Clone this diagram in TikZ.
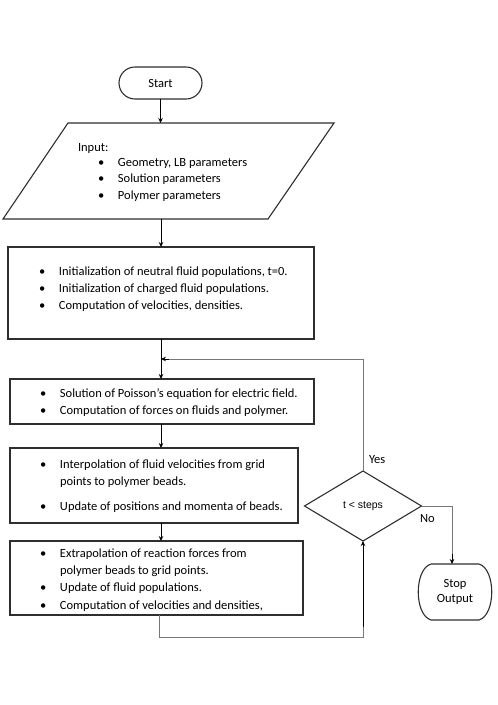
\documentclass[tikz,border=0pt]{standalone}
\usepackage{fontspec}
\setmainfont{Carlito}
\newfontfamily\arialfont{Liberation Sans}
\usetikzlibrary{arrows.meta,shapes.geometric,calc}
\definecolor{boxline}{HTML}{2E2E2E}
\definecolor{loopline}{HTML}{777777}
\begin{document}
\begin{tikzpicture}[x=1pt,y=-1pt,
  every node/.style={inner sep=0pt, outer sep=0pt},
  procbox/.style={draw=boxline, line width=1.1pt, minimum width=#1},
  ln/.style={anchor=west, text height=9pt, text depth=3pt, font=\fontsize{12.5}{15}\selectfont},
  arr/.style={draw=black, line width=0.9pt, -{Stealth[length=5pt,width=4.5pt]}},
  looparr/.style={draw=loopline, line width=0.9pt},
  lbl/.style={anchor=west, text height=9pt, text depth=3pt, font=\fontsize{12.5}{15}\selectfont}]
\useasboundingbox (0,0) rectangle (498,705);
\newcommand{\bl}{\makebox[20pt][l]{\textbullet}}
\coordinate (spine) at (161,0);

% Start
\node[draw=boxline, line width=1.1pt, rounded corners=16pt, minimum width=83pt, minimum height=32pt,
  font=\fontsize{12.5}{15}\selectfont] (start) at (160.5,83) {Start};

% Input parallelogram
\coordinate (p1) at (68,123);
\coordinate (p2) at (334,123);
\coordinate (p3) at (268,219);
\coordinate (p4) at (3,219);
\draw[draw=boxline, line width=1.1pt] (p1) -- (p2) -- (p3) -- (p4) -- cycle;
\node[ln] (in0) at (78,148) {Input:};
\node[ln] (in1) at (98,163) {\bl Geometry, LB parameters};
\node[ln] (in2) at (98,179.5) {\bl Solution parameters};
\node[ln] (in3) at (98,196) {\bl Polymer parameters};

% Box 1
\node[procbox=306pt, minimum height=92pt] (box1) at (161,293) {};
\node[ln] (b1a) at (39,272) {\bl Initialization of neutral fluid populations, t=0.};
\node[ln] (b1b) at (39,289) {\bl Initialization of charged fluid populations.};
\node[ln] (b1c) at (39,306) {\bl Computation of velocities, densities.};

% Box 2
\node[procbox=304pt, minimum height=45pt] (box2) at (162,401.5) {};
\node[ln] (b2a) at (40,394) {\bl Solution of Poisson’s equation for electric field.};
\node[ln] (b2b) at (40,411) {\bl Computation of forces on fluids and polymer.};

% Box 3
\node[procbox=288pt, minimum height=75pt] (box3) at (154,485.5) {};
\node[ln] (b3a) at (40,465) {\bl Interpolation of fluid velocities from grid};
\node[ln] (b3b) at (60,482.5) {points to polymer beads.};
\node[ln] (b3c) at (40,507) {\bl Update of positions and momenta of beads.};

% Box 4
\node[procbox=293pt, minimum height=74pt] (box4) at (156.5,578) {};
\node[ln] (b4a) at (40,554) {\bl Extrapolation of reaction forces from};
\node[ln] (b4b) at (60,571) {polymer beads to grid points.};
\node[ln] (b4c) at (40,588.5) {\bl Update of fluid populations.};
\node[ln] (b4d) at (40,606) {\bl Computation of velocities and densities,};

% Decision
\node[diamond, draw=boxline, line width=1.1pt, minimum width=117pt, minimum height=70pt,
  aspect=1.67, font=\arialfont\fontsize{10.5}{12}\selectfont] (dia) at (363,506) {t < steps};

% Stop
\node[minimum width=74pt, minimum height=56pt, align=center,
  font=\fontsize{12.5}{15.5}\selectfont] (stop) at (455,592) {Stop\\Output};
\draw[draw=boxline, line width=1.1pt]
  ($(stop.north west)+(13,0)$) -- ($(stop.north east)+(-13,0)$)
  .. controls ($(stop.north east)+(4,5)$) and ($(stop.south east)+(4,-5)$) .. ($(stop.south east)+(-13,0)$)
  -- ($(stop.south west)+(13,0)$)
  .. controls ($(stop.south west)+(-4,-5)$) and ($(stop.north west)+(-4,5)$) .. ($(stop.north west)+(13,0)$);

% Labels
\node[lbl] (yes) at (369,460) {Yes};
\node[lbl] (no) at (420,519) {No};

% Main flow arrows
\draw[arr] (start.south) -- (start.south |- p1);
\draw[arr] (spine |- p4) -- (spine |- box1.north);
\draw[arr] (spine |- box1.south) -- (spine |- box2.north);
\draw[arr] (spine |- box2.south) -- (spine |- box3.north);
\draw[arr] (spine |- box3.south) -- (spine |- box4.north);

% Loop back
\coordinate (ret) at (159,637);
\coordinate (loopy) at (0,359);
\draw[looparr] (ret |- box4.south) -- (ret) -- (ret -| dia.south)
  -- ++(0,-10);
\draw[arr] ($(ret -| dia.south)+(0,-10)$) -- (dia.south);
\draw[looparr] (dia.north) -- (dia.north |- loopy) -- ($(spine |- loopy)+(8,0)$);
\draw[arr] ($(spine |- loopy)+(8,0)$) -- (spine |- loopy);

% No branch
\coordinate (nocorner) at (452,506);
\draw[looparr] (dia.east) -- (nocorner) -- ($(nocorner |- stop.north)+(0,-10)$);
\draw[arr] ($(nocorner |- stop.north)+(0,-10)$) -- (nocorner |- stop.north);
\end{tikzpicture}
\end{document}
